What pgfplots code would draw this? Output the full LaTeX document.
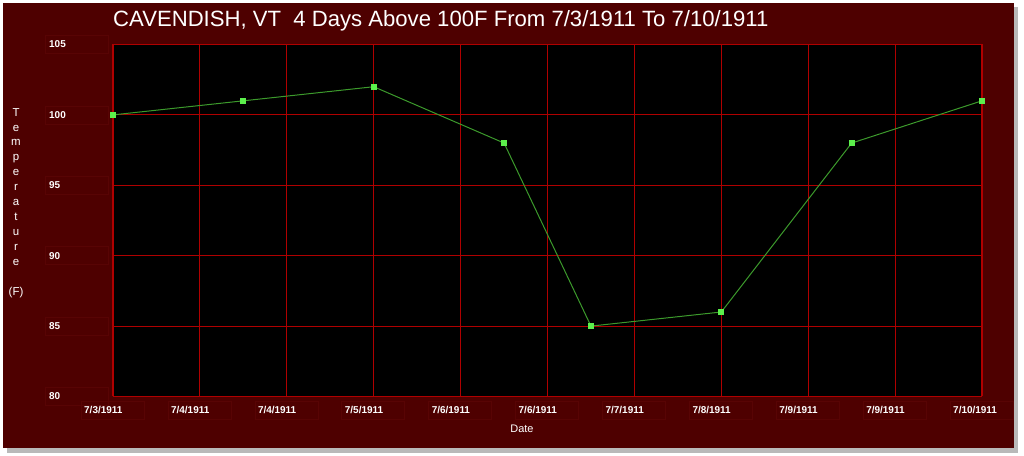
\documentclass[border=0pt]{standalone}
\usepackage{fontspec}
\setmainfont{Liberation Sans}
\usepackage{pgfplots}
\pgfplotsset{compat=1.18}
\definecolor{framered}{HTML}{4E0000}
\definecolor{gridred}{HTML}{B00000}
\definecolor{linegreen}{HTML}{3C9A2C}
\definecolor{markgreen}{HTML}{5CF04C}
\definecolor{boxred}{HTML}{580404}
\begin{document}
\begin{tikzpicture}[x=1bp,y=1bp]
\useasboundingbox (0,0) rectangle (1024,456);
\fill[white] (0,0) rectangle (1024,456);
\fill[gray!55] (7,3) rectangle (1018,449);
\fill[framered] (3,8) rectangle (1014,453);
% faint label boxes
\foreach \yy in {44.5,114.9,185.3,255.7,326.1,396.5}{
  \draw[boxred,line width=0.6bp] (45,456-\yy-9) rectangle (108,456-\yy+9);
}
\foreach \k in {0,...,10}{
  \draw[boxred,line width=0.6bp] ({113+86.9*\k-32},456-419) rectangle ({113+86.9*\k+31},456-401);
}
\begin{axis}[
  at={(113bp,59.5bp)}, anchor=south west,
  scale only axis, width=869bp, height=352bp,
  xmin=0, xmax=10, ymin=80, ymax=105,
  axis background/.style={fill=black},
  axis line style={draw=none},
  grid=major, grid style={gridred, line width=1.1bp},
  tick style={draw=none},
  /pgf/number format/assume math mode=true,
  xtick={0,...,10},
  xticklabels={7/3/1911,7/4/1911,7/4/1911,7/5/1911,7/6/1911,7/6/1911,7/7/1911,7/8/1911,7/9/1911,7/9/1911,7/10/1911},
  ytick={80,85,...,105},
  xticklabel style={font=\bfseries\fontsize{10}{12}\selectfont, text=white, anchor=north west, inner sep=0pt, xshift=-29bp, yshift=-9.5bp},
  yticklabel style={font=\bfseries\fontsize{10}{12}\selectfont, text=white, anchor=west, inner sep=0pt, xshift=-64bp},
  clip=false,
]
\addplot[linegreen, line width=1bp, mark=square*, mark size=2.6bp, mark options={fill=markgreen, draw=markgreen}] coordinates {
  (0,100) (1.5,101) (3,102) (4.5,98) (5.5,85) (7,86) (8.5,98) (10,101)
};
\end{axis}
\node[white, font=\fontsize{22.2}{25}\selectfont, anchor=west, inner sep=0pt] at (113,456-21) {CAVENDISH, VT\ \ 4 Days Above 100F From 7/3/1911 To 7/10/1911};
\node[white, font=\fontsize{11}{13}\selectfont, inner sep=0pt] at (522,456-429) {Date};
\node[white, font=\fontsize{11.5}{15}\selectfont, align=center, anchor=north, inner sep=0pt] at (16,456-108) {T\\e\\m\\p\\e\\r\\a\\t\\u\\r\\e\\[15bp](F)};
\end{tikzpicture}
\end{document}
